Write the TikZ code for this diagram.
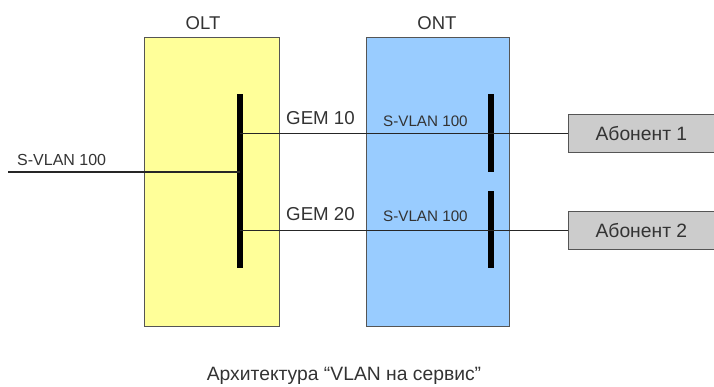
\documentclass[tikz,border=0pt]{standalone}
\usepackage{fontspec}
\setmainfont{Liberation Sans}
\definecolor{oltfill}{HTML}{FFFF99}
\definecolor{ontfill}{HTML}{99CCFF}
\definecolor{abfill}{HTML}{CCCCCC}
\definecolor{txt}{HTML}{333333}
\definecolor{edge}{HTML}{555555}
\tikzset{
  dev/.style={draw=edge, line width=0.8pt, inner sep=0, anchor=north west},
  bar/.style={fill=black, draw=none, inner sep=0, minimum width=6pt, anchor=north},
  abon/.style={draw=edge, fill=abfill, line width=0.8pt, inner sep=0, anchor=north west, minimum width=150pt, minimum height=38pt, text=txt},
  lbl/.style={text=txt, inner sep=0},
  wire/.style={draw=black!85, line width=1.4pt}
}
\begin{document}
\begin{tikzpicture}[x=1pt,y=-1pt]
\useasboundingbox (0,0) rectangle (714,387);
% devices
\node[dev, fill=oltfill, minimum width=135pt, minimum height=289pt] (olt) at (144,37) {};
\node[dev, fill=ontfill, minimum width=143pt, minimum height=289pt] (ont) at (366,37) {};
\node[lbl, font=\fontsize{18.5}{20}\selectfont] (oltl) at (203,23) {OLT};
\node[lbl, font=\fontsize{18.5}{20}\selectfont] (ontl) at (437,23) {ONT};
% bars
\node[bar, minimum height=174pt] (b0) at (240,94) {};
\node[bar, minimum height=78pt] (b1) at (491,94) {};
\node[bar, minimum height=77pt] (b2) at (491,191) {};
% subscriber boxes
\node[abon, font=\fontsize{19.3}{21}\selectfont] (a1) at (568,114) {\hspace*{-4pt}Абонент 1};
\node[abon, font=\fontsize{19.3}{21}\selectfont] (a2) at (568,211) {\hspace*{-4pt}Абонент 2};
% wires
\coordinate (in) at (8,172);
\draw[wire] (in) -- (b0.center |- in);
\draw[wire] (b0.center |- a1.west) -- (a1.west);
\draw[wire] (b0.center |- a2.west) -- (a2.west);
% labels
\node[lbl, font=\fontsize{16}{18}\selectfont, anchor=west] (sv0) at (17,160) {S-VLAN 100};
\node[lbl, font=\fontsize{18.7}{20}\selectfont, anchor=west] (g10) at (286,118) {GEM 10};
\node[lbl, font=\fontsize{18.7}{20}\selectfont, anchor=west] (g20) at (286,214) {GEM 20};
\node[lbl, font=\fontsize{15.2}{18}\selectfont, anchor=west] (sv1) at (383,121) {S-VLAN 100};
\node[lbl, font=\fontsize{15.2}{18}\selectfont, anchor=west] (sv2) at (383,216) {S-VLAN 100};
\node[lbl, font=\fontsize{19.3}{21}\selectfont] (cap) at (344,376) {Архитектура “VLAN на сервис”};
\end{tikzpicture}
\end{document}
